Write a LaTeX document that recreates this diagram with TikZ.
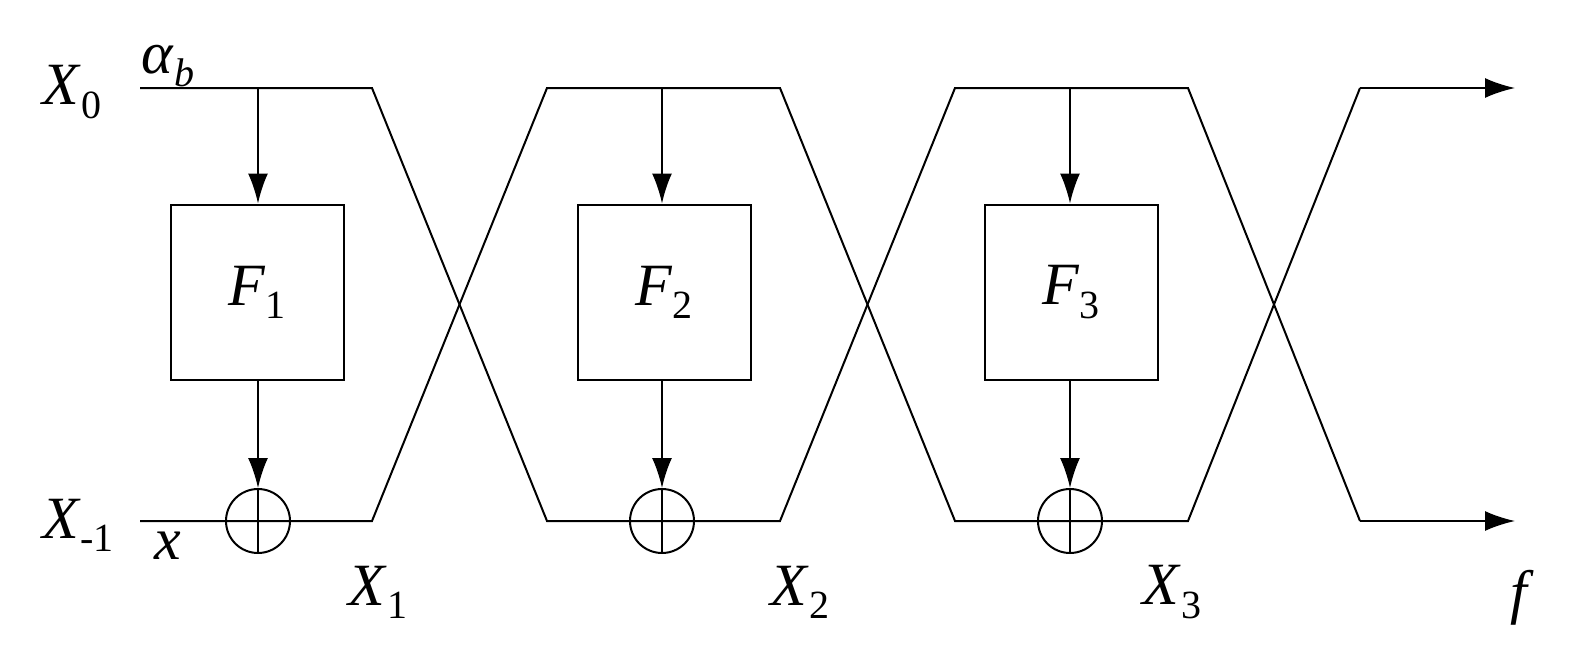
\documentclass[tikz,border=0pt]{standalone}
\usepackage{fontspec}
\setmainfont{Liberation Serif}
\usetikzlibrary{arrows.meta}
\newcommand{\lsub}[1]{\raisebox{-0.22em}{\fontsize{40}{40}\selectfont #1}}
\begin{document}
\begin{tikzpicture}[x=1pt,y=-1pt,line width=2pt,
  fbox/.style={draw,minimum width=173pt,minimum height=175pt,inner sep=0pt},
  xorc/.style={draw,circle,minimum size=64pt,inner sep=0pt},
  arr/.style={-{Latex[length=30pt,width=20pt]}},
  lab/.style={font=\fontsize{60}{60}\selectfont,inner sep=0pt}]
\useasboundingbox (0,0) rectangle (1593,659);
% boxes
\node[fbox] (F1) at (257,292) {};
\node[lab] at (257,292) {\textit{F}\lsub{1}};
\node[fbox] (F2) at (664,292) {};
\node[lab] at (664,292) {\textit{F}\lsub{2}};
\node[fbox] (F3) at (1071,292) {};
\node[lab] at (1071,292) {\textit{F}\lsub{3}};
% xor
\foreach \i/\x in {1/258,2/662,3/1070}{
  \node[xorc] (C\i) at (\x,521) {};
  \draw (C\i.north) -- (C\i.south) (C\i.west) -- (C\i.east);
  \coordinate (T\i) at (\x,88);
}
% lines
\coordinate (a0) at (140,88); \coordinate (a1) at (372,88);
\coordinate (b0) at (140,521); \coordinate (b1) at (372,521);
\coordinate (a2) at (547,88); \coordinate (a3) at (780,88);
\coordinate (b2) at (547,521); \coordinate (b3) at (780,521);
\coordinate (a4) at (955,88); \coordinate (a5) at (1188,88);
\coordinate (b4) at (955,521); \coordinate (b5) at (1188,521);
\coordinate (a6) at (1360,88); \coordinate (a7) at (1515,88);
\coordinate (b6) at (1360,521); \coordinate (b7) at (1515,521);
\draw (a0) -- (a1) -- (b2) -- (b3) -- (a4) -- (a5) -- (b6);
\draw (b0) -- (b1) -- (a2) -- (a3) -- (b4) -- (b5) -- (a6);
\draw[arr] (a6) -- (a7);
\draw[arr] (b6) -- (b7);
\foreach \i in {1,2,3}{
  \draw[arr] (T\i) -- (T\i |- F\i.north);
  \draw[arr] (C\i |- F\i.south) -- (C\i.north);
}
% labels
\node[lab] at (72,92) {\textit{X}\lsub{0}};
\node[lab] at (168,66) {\textit{α}\lsub{\textit{b}}};
\node[lab] at (78,525) {\textit{X}\lsub{-1}};
\node[lab] at (168,546) {\textit{x}};
\node[lab] at (378,592) {\textit{X}\lsub{1}};
\node[lab] at (800,592) {\textit{X}\lsub{2}};
\node[lab] at (1172,592) {\textit{X}\lsub{3}};
\node[lab] at (1522,598) {\textit{f}};
\end{tikzpicture}
\end{document}
